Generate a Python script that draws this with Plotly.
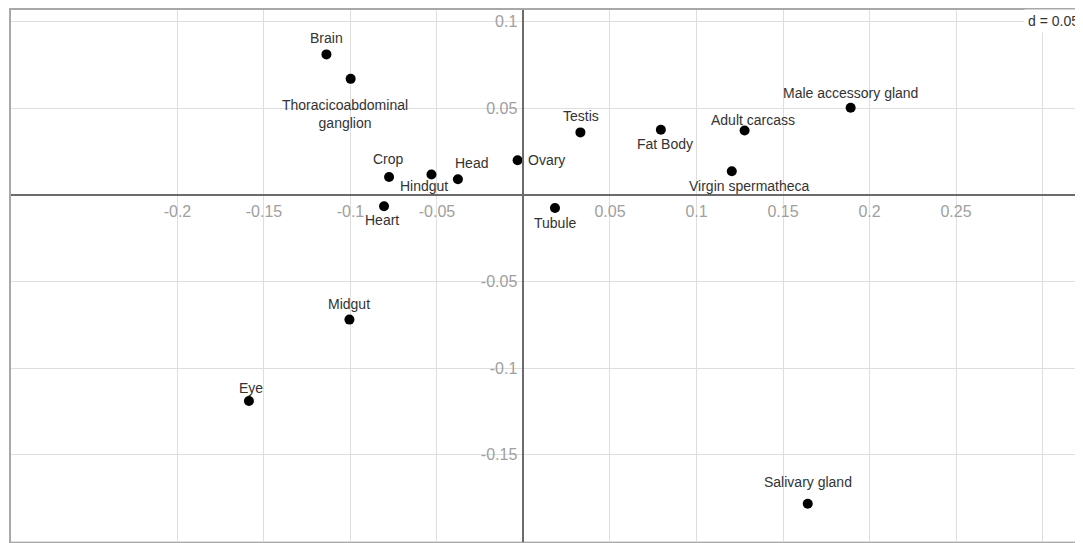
import plotly.graph_objects as go

# ---- data ----
tissues = ["Brain", "Thoracicoabdominal<br>ganglion", "Crop", "Hindgut", "Head", "Ovary",
           "Heart", "Tubule", "Testis", "Fat Body", "Adult carcass", "Virgin spermatheca",
           "Male accessory gland", "Midgut", "Eye", "Salivary gland"]
axis1 = [-0.1139, -0.0999, -0.0777, -0.0532, -0.0379, -0.0034,
         -0.0806, 0.0182, 0.0329, 0.0794, 0.1278, 0.1204,
         0.1891, -0.1006, -0.1587, 0.1643]
axis2 = [0.0810, 0.0669, 0.0103, 0.0117, 0.0090, 0.0199,
         -0.0066, -0.0076, 0.0360, 0.0375, 0.0371, 0.0136,
         0.0502, -0.0720, -0.1190, -0.1783]
x_ticks = [-0.2, -0.15, -0.1, -0.05, 0.05, 0.1, 0.15, 0.2, 0.25, 0.3]
x_ticklabels = ["-0.2", "-0.15", "-0.1", "-0.05", "0.05", "0.1", "0.15", "0.2", "0.25", ""]
y_ticks = [0.1, 0.05, -0.05, -0.1, -0.15, -0.2]
y_ticklabels = ["0.1", "0.05", "-0.05", "-0.1", "-0.15", ""]
grid_label = "d = 0.05"

# ---- label offsets (pixels: dx right, dy down) ----
label_offsets = {
    "Brain": (0, -16), "Thoracicoabdominal<br>ganglion": (-6, 35), "Crop": (-1, -18),
    "Hindgut": (-7, 11), "Head": (14, -16), "Ovary": (29, 0), "Heart": (-2, 14),
    "Tubule": (1, 15), "Testis": (1, -16), "Fat Body": (4, 14), "Adult carcass": (8, -11),
    "Virgin spermatheca": (18, 15), "Male accessory gland": (0, -15), "Midgut": (0, -16),
    "Eye": (2, -13), "Salivary gland": (0, -22),
}

xr = [-0.2968, 0.3234]
yr = [-0.2009, 0.1072]
ypos_of_xaxis = (0 - yr[0]) / (yr[1] - yr[0])
xpos_of_yaxis = (0 - xr[0]) / (xr[1] - xr[0])

fig = go.Figure()
fig.add_trace(go.Scatter(x=axis1, y=axis2, mode="markers",
                         marker=dict(size=10, color="black"),
                         hoverinfo="skip", showlegend=False))

annotations = []
for name, xv, yv in zip(tissues, axis1, axis2):
    dx, dy = label_offsets[name]
    annotations.append(dict(x=xv, y=yv, xref="x", yref="y", text=name, showarrow=False,
                            xshift=dx, yshift=-dy, align="center",
                            font=dict(family="Liberation Sans", size=14, color="#333333")))
annotations.append(dict(x=1, y=0.1, xref="paper", yref="y", text=grid_label, showarrow=False,
                        xanchor="right", yanchor="middle", bgcolor="white", borderpad=3,
                        font=dict(family="Liberation Sans", size=14, color="#333333")))

fig.update_layout(
    width=1075, height=535,
    margin=dict(l=2, r=0, t=1, b=0),
    paper_bgcolor="white", plot_bgcolor="white",
    annotations=annotations,
    xaxis=dict(range=xr, tickvals=x_ticks, ticktext=x_ticklabels,
               showgrid=True, gridcolor="#dedede", gridwidth=1, zeroline=False,
               anchor="free", position=ypos_of_xaxis,
               showline=True, linecolor="#6b6b6b", linewidth=2,
               ticks="outside", ticklen=2, tickcolor="rgba(0,0,0,0)",
               tickfont=dict(family="Liberation Sans", size=16, color="#a0a0a0")),
    yaxis=dict(range=yr, tickvals=y_ticks, ticktext=y_ticklabels,
               showgrid=True, gridcolor="#dedede", gridwidth=1, zeroline=False,
               anchor="free", position=xpos_of_yaxis,
               showline=True, linecolor="#6b6b6b", linewidth=2,
               ticks="outside", ticklen=2, tickcolor="rgba(0,0,0,0)",
               tickfont=dict(family="Liberation Sans", size=16, color="#a0a0a0")),
    shapes=[dict(type="rect", xref="paper", yref="paper", x0=0, x1=1.02, y0=0, y1=1,
                 line=dict(color="#a8a8a8", width=2), layer="above")],
)

fig.write_html("out.html")
